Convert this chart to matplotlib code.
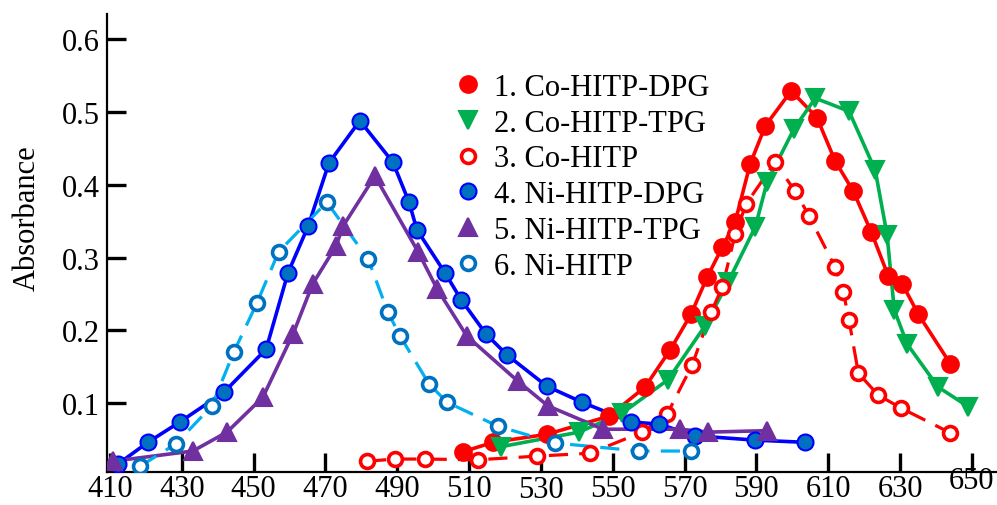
import numpy as np
import matplotlib.pyplot as plt
from matplotlib.lines import Line2D
from matplotlib.transforms import ScaledTranslation

plt.rcParams['font.family'] = ['Liberation Serif', 'DejaVu Serif']

### Data (wavelength nm, absorbance)
co_dpg_x = [508.3, 516.7, 531.7, 549.0, 559.0, 566.0, 571.8, 576.3, 580.5, 584.1, 588.3,
            592.5, 599.7, 606.9, 611.9, 617.0, 622.0, 626.7, 630.6, 635.1, 644.0]
co_dpg_y = [0.033, 0.046, 0.057, 0.082, 0.122, 0.173, 0.222, 0.273, 0.314, 0.349, 0.429,
            0.481, 0.529, 0.492, 0.433, 0.391, 0.335, 0.275, 0.264, 0.222, 0.154]

co_tpg_x = [518.9, 540.6, 552.6, 565.4, 575.7, 582.1, 589.7, 593.0, 600.5, 606.4, 615.8,
            623.1, 626.4, 628.4, 632.0, 640.6, 649.0]
co_tpg_y = [0.040, 0.060, 0.086, 0.132, 0.206, 0.266, 0.342, 0.404, 0.477, 0.519, 0.501,
            0.420, 0.331, 0.228, 0.181, 0.122, 0.095]

co_x = [481.6, 489.4, 497.7, 512.5, 528.9, 543.7, 558.2, 565.2, 572.1, 577.4, 580.5, 584.1,
        587.2, 595.2, 600.8, 604.7, 611.9, 614.2, 615.8, 618.4, 623.9, 630.3, 644.0]
co_y = [0.020, 0.023, 0.023, 0.022, 0.027, 0.031, 0.060, 0.085, 0.152, 0.225, 0.259, 0.332,
        0.374, 0.431, 0.391, 0.357, 0.287, 0.253, 0.214, 0.141, 0.111, 0.093, 0.059]

ni_dpg_x = [412.2, 420.6, 429.5, 441.8, 453.5, 459.6, 465.2, 471.0, 479.6, 488.8, 493.3, 495.5,
            503.3, 507.8, 514.7, 520.6, 531.7, 541.5, 555.1, 562.9, 573.0, 589.7, 603.6]
ni_dpg_y = [0.016, 0.046, 0.074, 0.115, 0.174, 0.279, 0.343, 0.430, 0.488, 0.431, 0.376, 0.338,
            0.279, 0.242, 0.195, 0.166, 0.123, 0.101, 0.074, 0.071, 0.055, 0.049, 0.046]

ni_tpg_x = [410.8, 433.1, 442.6, 452.6, 461.0, 466.5, 473.0, 474.9, 483.8, 495.8, 501.1,
            509.4, 523.6, 532.0, 547.3, 568.8, 576.6, 593.0]
ni_tpg_y = [0.020, 0.034, 0.060, 0.108, 0.195, 0.264, 0.316, 0.343, 0.412, 0.308, 0.257,
            0.192, 0.130, 0.096, 0.064, 0.064, 0.060, 0.062]

ni_x = [418.4, 428.4, 438.4, 444.5, 450.9, 457.0, 470.4, 481.9, 487.4, 490.8, 498.9, 503.9,
        518.1, 534.0, 557.4, 571.8]
ni_y = [0.013, 0.044, 0.096, 0.170, 0.237, 0.308, 0.376, 0.298, 0.225, 0.192, 0.126, 0.101,
        0.068, 0.045, 0.034, 0.034]

labels = ['1. Co-HITP-DPG', '2. Co-HITP-TPG', '3. Co-HITP',
          '4. Ni-HITP-DPG', '5. Ni-HITP-TPG', '6. Ni-HITP']

x_ticks = [410, 430, 450, 470, 490, 510, 530, 550, 570, 590, 610, 630, 650]
y_ticks = [0.1, 0.2, 0.3, 0.4, 0.5, 0.6]

### Styles: (x, y, line colour, dashed, marker, face, edge, size)
series = [
    (co_dpg_x, co_dpg_y, '#ff0000', False, 'o', '#ff0000', '#ff0000', 12),
    (co_tpg_x, co_tpg_y, '#00b050', False, 'v', '#00b050', '#00b050', 13),
    (co_x, co_y, '#ff0000', True, 'o', 'white', '#ff0000', 10),
    (ni_dpg_x, ni_dpg_y, '#0000ff', False, 'o', '#0070c0', '#0000ff', 11.5),
    (ni_tpg_x, ni_tpg_y, '#7030a0', False, '^', '#7030a0', '#7030a0', 13),
    (ni_x, ni_y, '#00b0f0', True, 'o', 'white', '#0070c0', 10),
]

fig = plt.figure(figsize=(9.97, 5.06), dpi=100)
ax = fig.add_axes([107 / 997, 33 / 506, 890 / 997, 458 / 506])

handles = []
for x, y, lc, dashed, mk, fc, ec, ms in series:
    if dashed:
        ax.plot(x, y, color=lc, lw=2.3, dashes=(6, 3.5), zorder=2)
    else:
        ax.plot(x, y, color=lc, lw=2.6, zorder=2, solid_joinstyle='round')
    mew = 2.6 if fc == 'white' else 1.5
    ax.plot(x, y, ls='none', marker=mk, ms=ms, mfc=fc, mec=ec, mew=mew, zorder=3)
    handles.append(Line2D([], [], ls='none', marker=mk, ms=ms, mfc=fc, mec=ec, mew=mew))

ax.set_xlim(409.2, 657.0)
ax.set_ylim(0.0052, 0.6347)
ax.set_xticks(x_ticks)
ax.set_xticklabels([str(t) for t in x_ticks])
ax.set_yticks(y_ticks)
ax.set_yticklabels(['%.1f' % t for t in y_ticks])

for s in ['top', 'right']:
    ax.spines[s].set_visible(False)
for s in ['left', 'bottom']:
    ax.spines[s].set_linewidth(1.6)

ax.tick_params(axis='both', direction='in', length=14, width=2.4, labelsize=22)
ax.tick_params(axis='x', pad=1.5)
ax.tick_params(axis='y', pad=5)

### a couple of the tick labels sit off-line in the original
for lab in ax.get_xticklabels():
    if lab.get_text() == '530':
        lab.set_transform(lab.get_transform() + ScaledTranslation(0, -1 / 72, fig.dpi_scale_trans))
    if lab.get_text() == '650':
        lab.set_transform(lab.get_transform() + ScaledTranslation(0, 6 / 72, fig.dpi_scale_trans))

ax.set_ylabel('Absorbance', fontsize=22)
ax.yaxis.set_label_coords(-0.073, 0.557)

ax.legend(handles, labels, loc='upper left', bbox_to_anchor=(0.375, 0.898), frameon=False,
          fontsize=22, handlelength=1.0, handletextpad=0.35, labelspacing=0.22,
          borderaxespad=0)

fig.savefig('out.png', dpi=100)
